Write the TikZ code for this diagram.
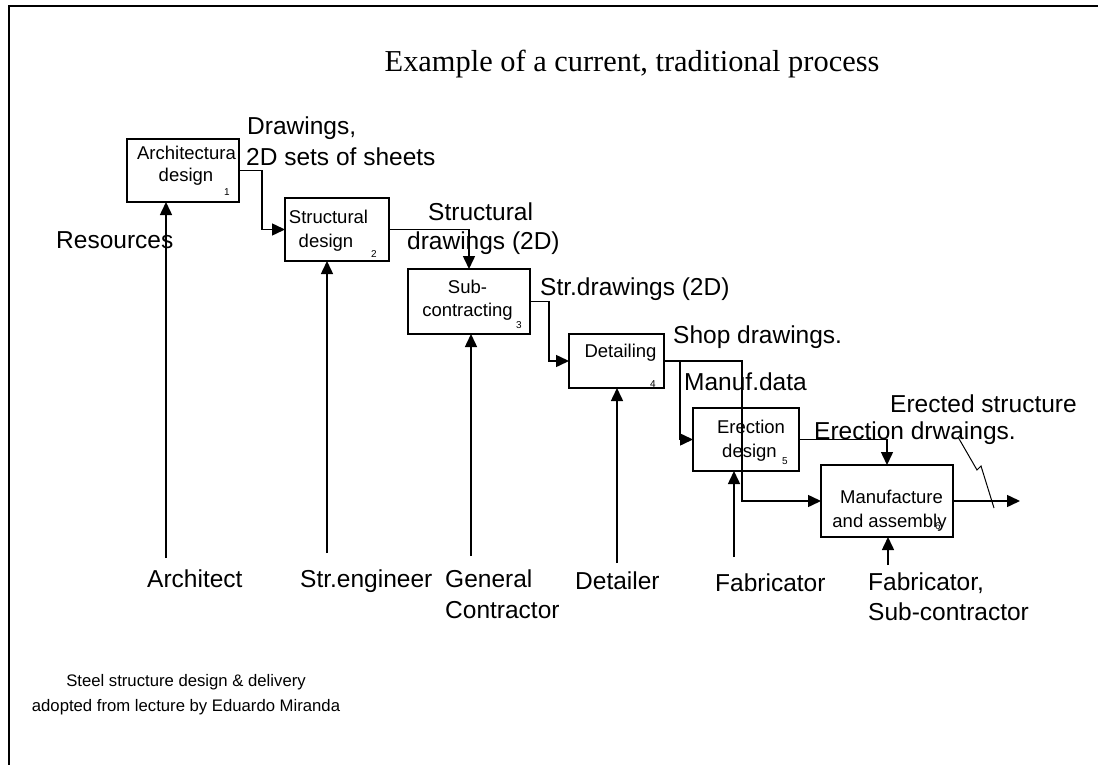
\documentclass[tikz,border=0pt]{standalone}
\usepackage{fontspec}
\setmainfont{Liberation Sans}
\newfontfamily\titlefont{Liberation Serif}
\usetikzlibrary{arrows.meta}
\tikzset{
  box/.style={draw, line width=2pt, inner sep=0pt, outer sep=0pt},
  lbl/.style={inner sep=0pt, anchor=base west, font=\fontsize{24.5}{29}\selectfont},
  btxt/.style={inner sep=0pt, anchor=base, font=\fontsize{18.5}{22}\selectfont},
  num/.style={inner sep=0pt, anchor=base, font=\fontsize{10}{12}\selectfont},
  foot/.style={inner sep=0pt, anchor=base, font=\fontsize{16.7}{20}\selectfont},
  ln/.style={line width=1.5pt},
  arr/.style={line width=1.5pt, -{Triangle[length=13pt,width=12pt]}}
}
\begin{document}
\begin{tikzpicture}[x=1pt,y=-1pt]
\useasboundingbox (0,0) rectangle (1098,765);
% frame
\draw[line width=2pt] (9,765) -- (9,6) -- (1098,6);
% title
\node[inner sep=0pt, anchor=base, font=\titlefont\fontsize{30.4}{36}\selectfont] (title) at (632,72) {Example of a current, traditional process};

% boxes
\node[box, minimum width=112pt, minimum height=63pt] (b1) at (183,170.5) {};
\node[box, minimum width=104pt, minimum height=63pt] (b2) at (337,229.5) {};
\node[box, minimum width=122pt, minimum height=65pt] (b3) at (469,301.5) {};
\node[box, minimum width=95pt, minimum height=54pt] (b4) at (616.5,361) {};
\node[box, minimum width=106pt, minimum height=63pt] (b5) at (746,439.5) {};
\node[box, minimum width=132pt, minimum height=72pt] (b6) at (887,501) {};

% box texts
\node[btxt] (t1a) at (186.5,160) {Architectura};
\node[btxt] (t1b) at (186,182) {design};
\node[num] (n1) at (227,196) {1};
\node[btxt] (t2a) at (328.5,223) {Structural};
\node[btxt] (t2b) at (326,247) {design};
\node[num] (n2) at (374,257) {2};
\node[btxt] (t3a) at (467.5,293) {Sub-};
\node[btxt] (t3b) at (467.5,316) {contracting};
\node[num] (n3) at (519,328) {3};
\node[btxt] (t4a) at (620.5,357) {Detailing};
\node[num] (n4) at (653,387) {4};
\node[btxt] (t5a) at (751,433) {Erection};
\node[btxt] (t5b) at (749.5,457) {design};
\node[num] (n5) at (785,464) {5};
\node[btxt] (t6a) at (891.5,503) {Manufacture};
\node[btxt] (t6b) at (889.5,527) {and assembly};
\node[num] (n6) at (938,529) {6};

% flow labels
\node[lbl] (l1a) at (247,135) {Drawings,};
\node[lbl] (l1b) at (246,165) {2D sets of sheets};
\node[lbl] (res) at (56,248) {Resources};
\node[lbl] (l2a) at (428,220) {Structural};
\node[lbl] (l2b) at (407,249) {drawings (2D)};
\node[lbl] (l3) at (540,295) {Str.drawings (2D)};
\node[lbl] (l4a) at (673,343) {Shop drawings.};
\node[lbl] (l4b) at (684,390) {Manuf.data};
\node[lbl] (l6) at (890,412) {Erected structure};
\node[lbl] (l5) at (814,439) {Erection drwaings.};

% mechanism labels
\node[lbl] (m1l) at (147,587) {Architect};
\node[lbl] (m2l) at (300,587) {Str.engineer};
\node[lbl] (m3l) at (445,587) {General};
\node[lbl] (m3m) at (445,618) {Contractor};
\node[lbl] (m4l) at (575,589) {Detailer};
\node[lbl] (m5l) at (715,591) {Fabricator};
\node[lbl] (m6l) at (868,590) {Fabricator,};
\node[lbl] (m6m) at (868,620) {Sub-contractor};

% footnote
\node[foot] (f1) at (186,686) {Steel structure design \& delivery};
\node[foot] (f2) at (186,711) {adopted from lecture by Eduardo Miranda};

% flow connectors
\draw[arr] (b1.east) -- ++(23,0) |- (b2.west);
\draw[arr] (b2.east) -| (b3.north);
\draw[arr] (b3.east) -- ++(19,0) |- (b4.west);
\draw[arr] (b4.east) -- ++(16,0) |- (b5.west);
\draw[arr] (b4.east) -- ++(78,0) |- (b6.west);
\draw[arr] (b5.east) -| (b6.north);
\coordinate (out) at (1020,501);
\draw[arr] (b6.east) -- (out);
% squiggle
\coordinate (z1) at (958,437);
\coordinate (z2) at (977,470);
\coordinate (z3) at (981,466);
\coordinate (z4) at (994,508);
\draw[line width=1pt] (z1) -- (z2) -- (z3) -- (z4);

% mechanism connectors
\coordinate (m1) at (166,558);
\coordinate (m2) at (327,553);
\coordinate (m3) at (471,556);
\coordinate (m4) at (617,563);
\coordinate (m5) at (734,557);
\coordinate (m6) at (888,565);
\draw[arr] (m1) -- (m1 |- b1.south);
\draw[arr] (m2) -- (m2 |- b2.south);
\draw[arr] (m3) -- (m3 |- b3.south);
\draw[arr] (m4) -- (m4 |- b4.south);
\draw[arr] (m5) -- (m5 |- b5.south);
\draw[arr] (m6) -- (m6 |- b6.south);
\end{tikzpicture}
\end{document}
